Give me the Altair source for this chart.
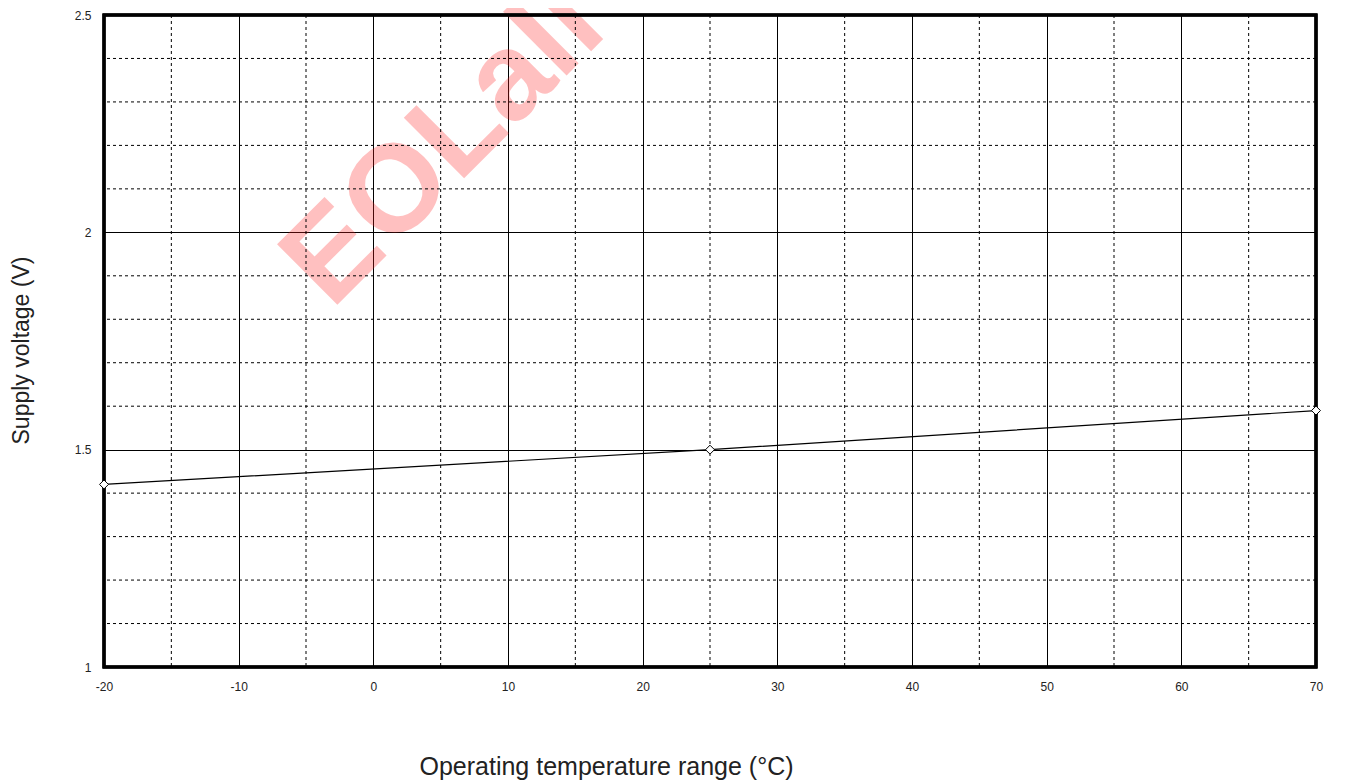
import altair as alt
import pandas as pd

temps = [-20, 25, 70]
volts = [1.42, 1.50, 1.59]

x_major = [-20, -10, 0, 10, 20, 30, 40, 50, 60, 70]
x_minor = [-15, -5, 5, 15, 25, 35, 45, 55, 65]
y_major = [1.0, 1.5, 2.0, 2.5]
y_minor = [1.1, 1.2, 1.3, 1.4, 1.6, 1.7, 1.8, 1.9, 2.1, 2.2, 2.3, 2.4]

wm_text = ["EOLall"]
wm_x = [-3.1]
wm_y = [1.82]

FONT = "Liberation Sans"
W, H = 1212, 652
xs = alt.Scale(domain=[-20, 70], nice=False, zero=False)
ys = alt.Scale(domain=[1.0, 2.5], nice=False, zero=False)

df = pd.DataFrame({"t": temps, "v": volts})
dxm = pd.DataFrame({"t": x_minor})
dym = pd.DataFrame({"v": y_minor})
dwm = pd.DataFrame({"txt": wm_text, "t": wm_x, "v": wm_y})

xaxis = alt.Axis(
    values=x_major, labelExpr="toString(datum.value)", grid=True, gridColor="black",
    gridWidth=1, gridOpacity=1,
    domain=False, ticks=False, labelPadding=14, labelFontSize=12, labelFont=FONT,
    labelColor="#222", title="Operating temperature range (°C)", titleFont=FONT,
    titleFontSize=25, titleFontWeight="normal", titleColor="#222",
    titleX=502, titleY=107, titleBaseline="alphabetic", titleAnchor="start", titleAlign="center",
    labelFlush=False,
)
yaxis = alt.Axis(
    values=y_major, grid=True, gridColor="black", gridWidth=1, gridOpacity=1,
    domain=False, ticks=False, labelPadding=13, labelFontSize=12, labelFont=FONT,
    labelColor="#222", labelExpr="toString(datum.value)",
    title="Supply voltage (V)", titleFont=FONT, titleFontSize=23, titleFontWeight="normal",
    titleColor="#222", titleX=-83, titleY=335, titleAngle=270, titleAlign="center",
    titleBaseline="middle", labelFlush=False,
)

base = alt.Chart(df).mark_line(color="black", strokeWidth=1.2).encode(
    x=alt.X("t:Q", scale=xs, axis=xaxis),
    y=alt.Y("v:Q", scale=ys, axis=yaxis),
)

wm = alt.Chart(dwm).mark_text(
    angle=315, align="left", baseline="alphabetic", font=FONT, fontWeight="bold",
    fontSize=124, color="#ff2020", opacity=0.28,
).encode(
    x=alt.X("t:Q", scale=xs), y=alt.Y("v:Q", scale=ys), text="txt:N"
)

minor_x = alt.Chart(dxm).mark_rule(color="black", strokeWidth=1, strokeDash=[3, 3]).encode(
    x=alt.X("t:Q", scale=xs)
)
minor_y = alt.Chart(dym).mark_rule(color="black", strokeWidth=1, strokeDash=[3, 3]).encode(
    y=alt.Y("v:Q", scale=ys)
)

border = alt.Chart(df).mark_rect(filled=False, stroke="black", strokeWidth=3, fillOpacity=0).encode(
    x=alt.value(0), x2=alt.value(W), y=alt.value(0), y2=alt.value(H)
)

pts = alt.Chart(df).mark_point(
    shape="diamond", filled=True, fill="white", stroke="black", strokeWidth=1, size=80, opacity=1
).encode(x=alt.X("t:Q", scale=xs), y=alt.Y("v:Q", scale=ys))

chart = alt.layer(wm, minor_x, minor_y, base, border, pts).properties(
    width=W, height=H,
    padding={"left": 96, "top": 7, "right": 21, "bottom": 114},
    autosize=alt.AutoSizeParams(type="none"),
).configure_view(stroke=None).configure(background="white")

chart.save("out.html", embed_options={"renderer": "svg", "actions": False})
